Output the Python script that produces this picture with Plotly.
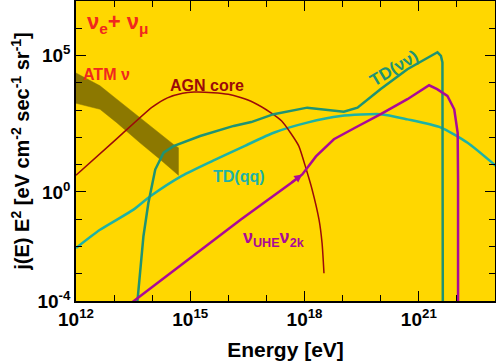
import numpy as np
import plotly.graph_objects as go

# ---- data (log10 of energy [eV] and log10 of j(E)E^2) ----
agn_logE = [12.0, 13.0, 14.0, 14.4, 14.8, 15.1, 15.6, 16.0, 16.32, 16.66, 17.11, 17.4, 17.63, 17.85, 18.05, 18.2, 18.38, 18.46, 18.51]
agn_logJ = [0.61, 1.86, 3.11, 3.45, 3.62, 3.66, 3.64, 3.58, 3.46, 3.28, 2.91, 2.6, 2.17, 1.68, 0.8, 0.08, -1.02, -1.88, -2.98]

tdnn_logE = [13.6, 13.68, 13.77, 13.9, 14.08, 14.3, 14.56, 15.26, 16.14, 16.6, 17.19, 18.07, 18.6, 19.03, 19.39, 20.0, 20.7, 21.4, 21.49, 21.58, 21.62, 21.63]
tdnn_logJ = [-4.2, -2.87, -1.63, -0.41, 0.82, 1.44, 1.68, 2.05, 2.42, 2.56, 2.85, 3.09, 3.02, 2.94, 3.09, 3.77, 4.5, 5.06, 5.12, 4.99, 4.75, -4.2]

tdqq_logE = [12.0, 12.63, 13.51, 13.95, 14.78, 15.6, 16.45, 17.19, 18.07, 18.95, 20.0, 20.7, 21.58, 22.28, 23.05]
tdqq_logJ = [-2.06, -1.39, -0.65, -0.16, 0.59, 1.15, 1.70, 2.17, 2.54, 2.78, 2.85, 2.66, 2.36, 1.80, 0.92]

uhe_logE = [13.33, 16.32, 17.72, 17.94, 18.3, 18.77, 19.35, 20.0, 20.7, 21.27, 21.48, 21.75, 21.93, 22.02, 22.03, 22.03]
uhe_logJ = [-4.2, -1.02, 0.40, 0.64, 1.3, 1.93, 2.37, 2.85, 3.4, 3.91, 3.77, 3.52, 3.03, 2.17, 0.45, -4.2]

atm_upper_logE = [12.0, 12.63, 13.07, 13.68, 14.21, 14.56, 14.69]
atm_upper_logJ = [4.36, 3.89, 3.40, 2.72, 2.11, 1.74, 1.62]
atm_lower_logE = [12.0, 12.63, 13.07, 13.68, 14.21, 14.69]
atm_lower_logJ = [3.25, 3.03, 2.54, 1.80, 1.19, 0.61]

x_tick_exp = [12, 15, 18, 21]
y_tick_exp = [-4, 0, 5]

# ---- styling ----
GOLD = "#FFD700"
RED = "#F0281E"
AGN_C = "#9B0A0A"
TDNN_C = "#1F9373"
TDQQ_C = "#1DB2A6"
UHE_C = "#AA0A98"
ATM_C = "#8C7800"
FONT = "Liberation Sans"

def p(v):
    return [10.0 ** a for a in v]

fig = go.Figure()

# ATM band polygon
band_x = atm_upper_logE + atm_lower_logE[::-1]
band_y = atm_upper_logJ + atm_lower_logJ[::-1]
fig.add_trace(go.Scatter(x=p(band_x), y=p(band_y), fill="toself", fillcolor=ATM_C,
                         mode="lines", line=dict(color=ATM_C, width=0.5)))

fig.add_trace(go.Scatter(x=p(tdqq_logE), y=p(tdqq_logJ), mode="lines",
                         line=dict(color=TDQQ_C, width=2.5, shape="spline", smoothing=0.6)))
fig.add_trace(go.Scatter(x=p(agn_logE), y=p(agn_logJ), mode="lines",
                         line=dict(color=AGN_C, width=1.5, shape="spline", smoothing=0.6)))
fig.add_trace(go.Scatter(x=p(tdnn_logE), y=p(tdnn_logJ), mode="lines",
                         line=dict(color=TDNN_C, width=2.5)))
fig.add_trace(go.Scatter(x=p(uhe_logE), y=p(uhe_logJ), mode="lines",
                         line=dict(color=UHE_C, width=2.5)))

def ann(text, xe, ye, color, size, angle=0):
    fig.add_annotation(x=xe, y=ye, xref="x", yref="y", text=text, showarrow=False,
                       font=dict(family=FONT, size=size, color=color, weight="bold"),
                       textangle=angle)

ann("ν<sub>e</sub>+ ν<sub>μ</sub>", 13.10, 6.19, RED, 22)
ann("ATM ν", 12.79, 4.32, RED, 16)
ann("AGN core", 15.44, 3.92, AGN_C, 16)
ann("TD(νν)", 20.35, 4.51, TDNN_C, 17, -31)
ann("TD(qq)", 16.28, 0.58, TDQQ_C, 16)
ann("ν<sub>UHE</sub>ν<sub>2k</sub>", 17.2, -1.69, UHE_C, 18)

# small arrow on the UHE line
fig.add_annotation(x=17.94, y=0.64, ax=17.62, ay=0.31, xref="x", yref="y",
                   axref="x", ayref="y", text="", showarrow=True,
                   arrowhead=2, arrowsize=0.8, arrowwidth=2, arrowcolor=UHE_C)

axis_common = dict(type="log", showgrid=False, zeroline=False, showline=True,
                   linecolor="black", linewidth=1.5, mirror="allticks",
                   ticks="inside", ticklen=10, tickwidth=1.2, tickcolor="black",
                   automargin=False,
                   tickfont=dict(family=FONT, size=19, color="black", weight="bold"))

fig.update_layout(
    width=496, height=363,
    margin=dict(l=76, r=1, t=1, b=62),
    paper_bgcolor="white", plot_bgcolor=GOLD,
    showlegend=False,
    xaxis=dict(**axis_common, range=[12, 23],
               tickmode="array", tickvals=[10.0 ** e for e in x_tick_exp],
               ticktext=["10<sup>%d</sup>" % e for e in x_tick_exp],
               minor=dict(tickmode="array", tickvals=[10.0 ** e for e in range(12, 24)],
                          ticks="inside", ticklen=6, tickcolor="black", tickwidth=1.2),
               title=dict(text="Energy [eV]", standoff=14,
                          font=dict(family=FONT, size=21, color="black", weight="bold"))),
    yaxis=dict(**axis_common, range=[-4, 7],
               tickmode="array", tickvals=[10.0 ** e for e in y_tick_exp],
               ticktext=["10<sup>%d</sup>" % e for e in y_tick_exp],
               minor=dict(tickmode="array", tickvals=[10.0 ** e for e in range(-4, 8)],
                          ticks="inside", ticklen=6, tickcolor="black", tickwidth=1.2),
               title=dict(text="j(E) E<sup>2</sup> [eV cm<sup>-2</sup> sec<sup>-1</sup> sr<sup>-1</sup>]",
                          standoff=2,
                          font=dict(family=FONT, size=20, color="black", weight="bold"))),
)

fig.write_html("out.html", config={"displayModeBar": False},
               post_script="document.body.style.margin='0';")
